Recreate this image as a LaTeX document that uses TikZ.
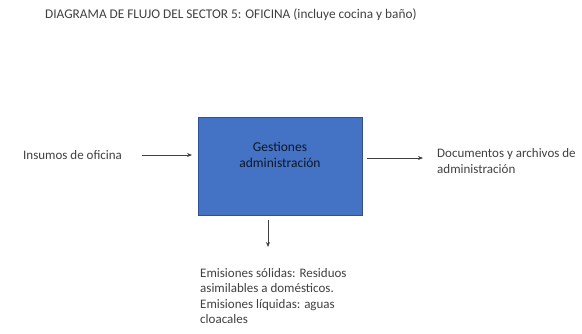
\documentclass[tikz,border=0pt]{standalone}
\usepackage{fontspec}
\setmainfont{Carlito}
\usetikzlibrary{arrows.meta}

\definecolor{azulbox}{HTML}{4472C4}
\definecolor{bordebox}{HTML}{2F528F}
\definecolor{texto}{HTML}{404040}

\begin{document}
\begin{tikzpicture}[x=1pt,y=-1pt,
    txt/.style={text=texto,font=\fontsize{13}{15.5}\selectfont,inner sep=0pt},
    proc/.style={draw=bordebox,line width=1pt,fill=azulbox,minimum width=164pt,minimum height=98pt,inner sep=0pt},
    flecha/.style={draw=black!75,line width=0.9pt,-{Stealth[length=5pt,width=4pt]}}]
    \useasboundingbox (0,0) rectangle (582,334);
    % titulo
    \node[txt,anchor=west,font=\fontsize{13.3}{15}\selectfont] (titulo) at (45,15)
      {DIAGRAMA DE FLUJO DEL SECTOR 5: OFICINA (incluye cocina y baño)};
    % proceso central
    \node[proc] (proceso) at (280,167) {};
    \node[txt,text=black!80!azulbox,align=center,font=\fontsize{13.5}{16}\selectfont] (gestion) at (280,155)
      {Gestiones\\administración};
    % entrada y salidas
    \node[txt,anchor=west] (insumos) at (23,155) {Insumos de oficina};
    \node[txt,anchor=west,align=left,font=\fontsize{13}{16.5}\selectfont] (docs) at (437,161)
      {Documentos y archivos de\\administración};
    \node[txt,anchor=north west,align=left] (emisiones) at (200,268)
      {Emisiones sólidas: Residuos\\asimilables a domésticos.\\Emisiones líquidas: aguas\\cloacales};
    % flechas
    \coordinate (ini1) at (142,155);
    \coordinate (fin1) at (192,155);
    \coordinate (ini2) at (367,158);
    \coordinate (fin2) at (423,158);
    \coordinate (fin3) at (268,247);
    \draw[flecha] (ini1) -- (fin1);
    \draw[flecha] (ini2) -- (fin2);
    \draw[flecha] (proceso.south -| fin3) ++(0,4) -- (fin3);
\end{tikzpicture}
\end{document}
